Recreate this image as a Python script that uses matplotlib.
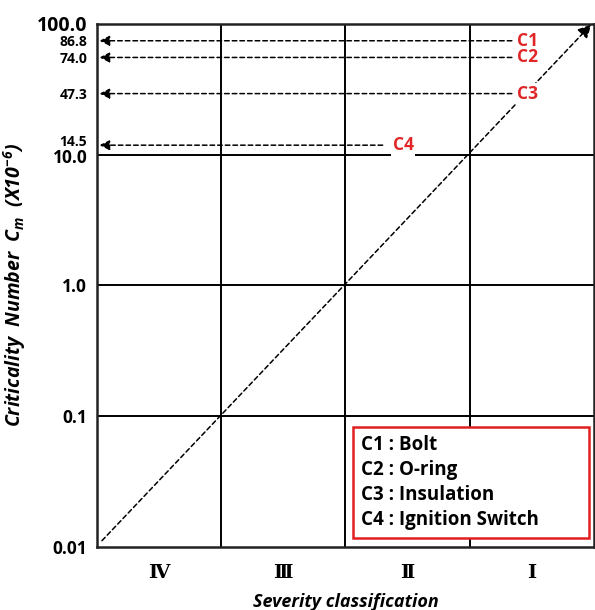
import numpy as np
import matplotlib
matplotlib.use('Agg')
import matplotlib.pyplot as plt
from matplotlib.patches import Rectangle
from matplotlib.transforms import ScaledTranslation

plt.rcParams['font.family'] = ['Open Sans', 'Noto Sans CJK KR', 'DejaVu Sans']
plt.rcParams['mathtext.fontset'] = 'custom'
plt.rcParams['mathtext.it'] = 'Open Sans:italic:bold'
plt.rcParams['mathtext.rm'] = 'Open Sans:italic:bold'
plt.rcParams['mathtext.bf'] = 'Open Sans:italic:bold'

# data
severity = ['Ⅳ', 'Ⅲ', 'Ⅱ', 'Ⅰ']
decades = [0.01, 0.1, 1.0, 10.0, 100.0]
items = ['C1', 'C2', 'C3', 'C4']
item_names = ['Bolt', 'O-ring', 'Insulation', 'Ignition Switch']
criticality = [86.8, 74.0, 47.3, 14.5]

# scale: one step per decade, mostly linear inside a decade
MIX = 0.8
_r = np.linspace(1, 10, 2001)
_u = MIX * (_r - 1) / 9 + (1 - MIX) * np.log10(_r)


def fwd(v):
    v = np.clip(np.asarray(v, dtype=float), 1e-9, None)
    k = np.floor(np.log10(v) + 1e-9)
    return k + np.interp(v / 10.0 ** k, _r, _u)


def inv(f):
    f = np.asarray(f, dtype=float)
    k = np.floor(f)
    return 10.0 ** k * np.interp(f - k, _u, _r)


fig = plt.figure(figsize=(5.95, 6.1), dpi=100)
ax = fig.add_axes([0.163, 0.103, 0.835, 0.858])
ax.set_yscale('function', functions=(fwd, inv))
ax.set_xlim(0, len(severity))
ax.set_ylim(decades[0], decades[-1])

for s in ax.spines.values():
    s.set_linewidth(1.8)
    s.set_color('#222222')

# grid
for d in decades[1:-1]:
    ax.axhline(d, color='black', lw=1.4)
for i in range(1, len(severity)):
    ax.axvline(i, color='black', lw=1.4)

# diagonal
ax.annotate('', xy=(len(severity) - 0.02, decades[-1] * 0.995), xytext=(0.04, decades[0] * 1.3),
            arrowprops=dict(arrowstyle='-|>', ls=(0, (3, 2)), lw=1.1, color='black',
                            mutation_scale=20, shrinkA=0, shrinkB=0))

# item arrows
label_x = [3.38, 3.38, 3.38, 2.38]
end_x = [3.34, 3.34, 3.34, 2.30]
for name, val, lx, ex in zip(items, criticality, label_x, end_x):
    ax.annotate('', xy=(0.02, val), xytext=(ex, val),
                arrowprops=dict(arrowstyle='-|>', ls=(0, (3, 2)), lw=1.1, color='black',
                                mutation_scale=15, shrinkA=0, shrinkB=0))
    ax.text(lx, val, name, color='#e02626', fontsize=12.5, fontweight='bold',
            ha='left', va='center', zorder=5,
            bbox=dict(facecolor='white', edgecolor='none', pad=1))

# y ticks
yticks = decades + criticality
ax.set_yticks(yticks)
ax.set_yticklabels(['%g' % v if v < 0.1 else '%.1f' % v for v in yticks], fontweight='bold')
ax.yaxis.set_minor_locator(plt.NullLocator())
ax.tick_params(axis='y', length=0, pad=7)
for tick, v in zip(ax.yaxis.get_major_ticks(), yticks):
    lab = tick.label1
    if v == 100.0:
        lab.set_fontsize(14)
    elif v in criticality:
        lab.set_fontsize(10)
    else:
        lab.set_fontsize(12.5)
    if v == 14.5:
        # nudge up a little so it clears 10.0
        lab.set_transform(lab.get_transform() + ScaledTranslation(0, 5 / 100, fig.dpi_scale_trans))
    if v == 10.0:
        lab.set_verticalalignment('top')
        lab.set_transform(lab.get_transform() + ScaledTranslation(0, 6 / 100, fig.dpi_scale_trans))

ax.set_xticks(np.arange(len(severity)) + 0.5)
ax.set_xticklabels(severity, fontsize=14, fontweight='bold',
                   family=['DejaVu Serif', 'Noto Sans CJK KR'])
ax.tick_params(axis='x', length=0, pad=12)

ax.set_xlabel('Severity classification', fontsize=13, fontweight='bold', style='italic', labelpad=8)
ax.set_ylabel(r'Criticality  Number  $C_m$  (X10$^{-6}$)', fontsize=14,
              fontweight='bold', style='italic', labelpad=6)

# legend box
ax.add_patch(Rectangle((0.515, 0.017), 0.475, 0.212, transform=ax.transAxes,
                       facecolor='white', edgecolor='#e02020', lw=1.8, zorder=6))
for i, (c, n) in enumerate(zip(items, item_names)):
    ax.text(0.532, 0.196 - i * 0.048, f'{c} : {n}', transform=ax.transAxes,
            fontsize=13.5, fontweight='bold', ha='left', va='center', zorder=7)

fig.savefig('out.png', dpi=100)
